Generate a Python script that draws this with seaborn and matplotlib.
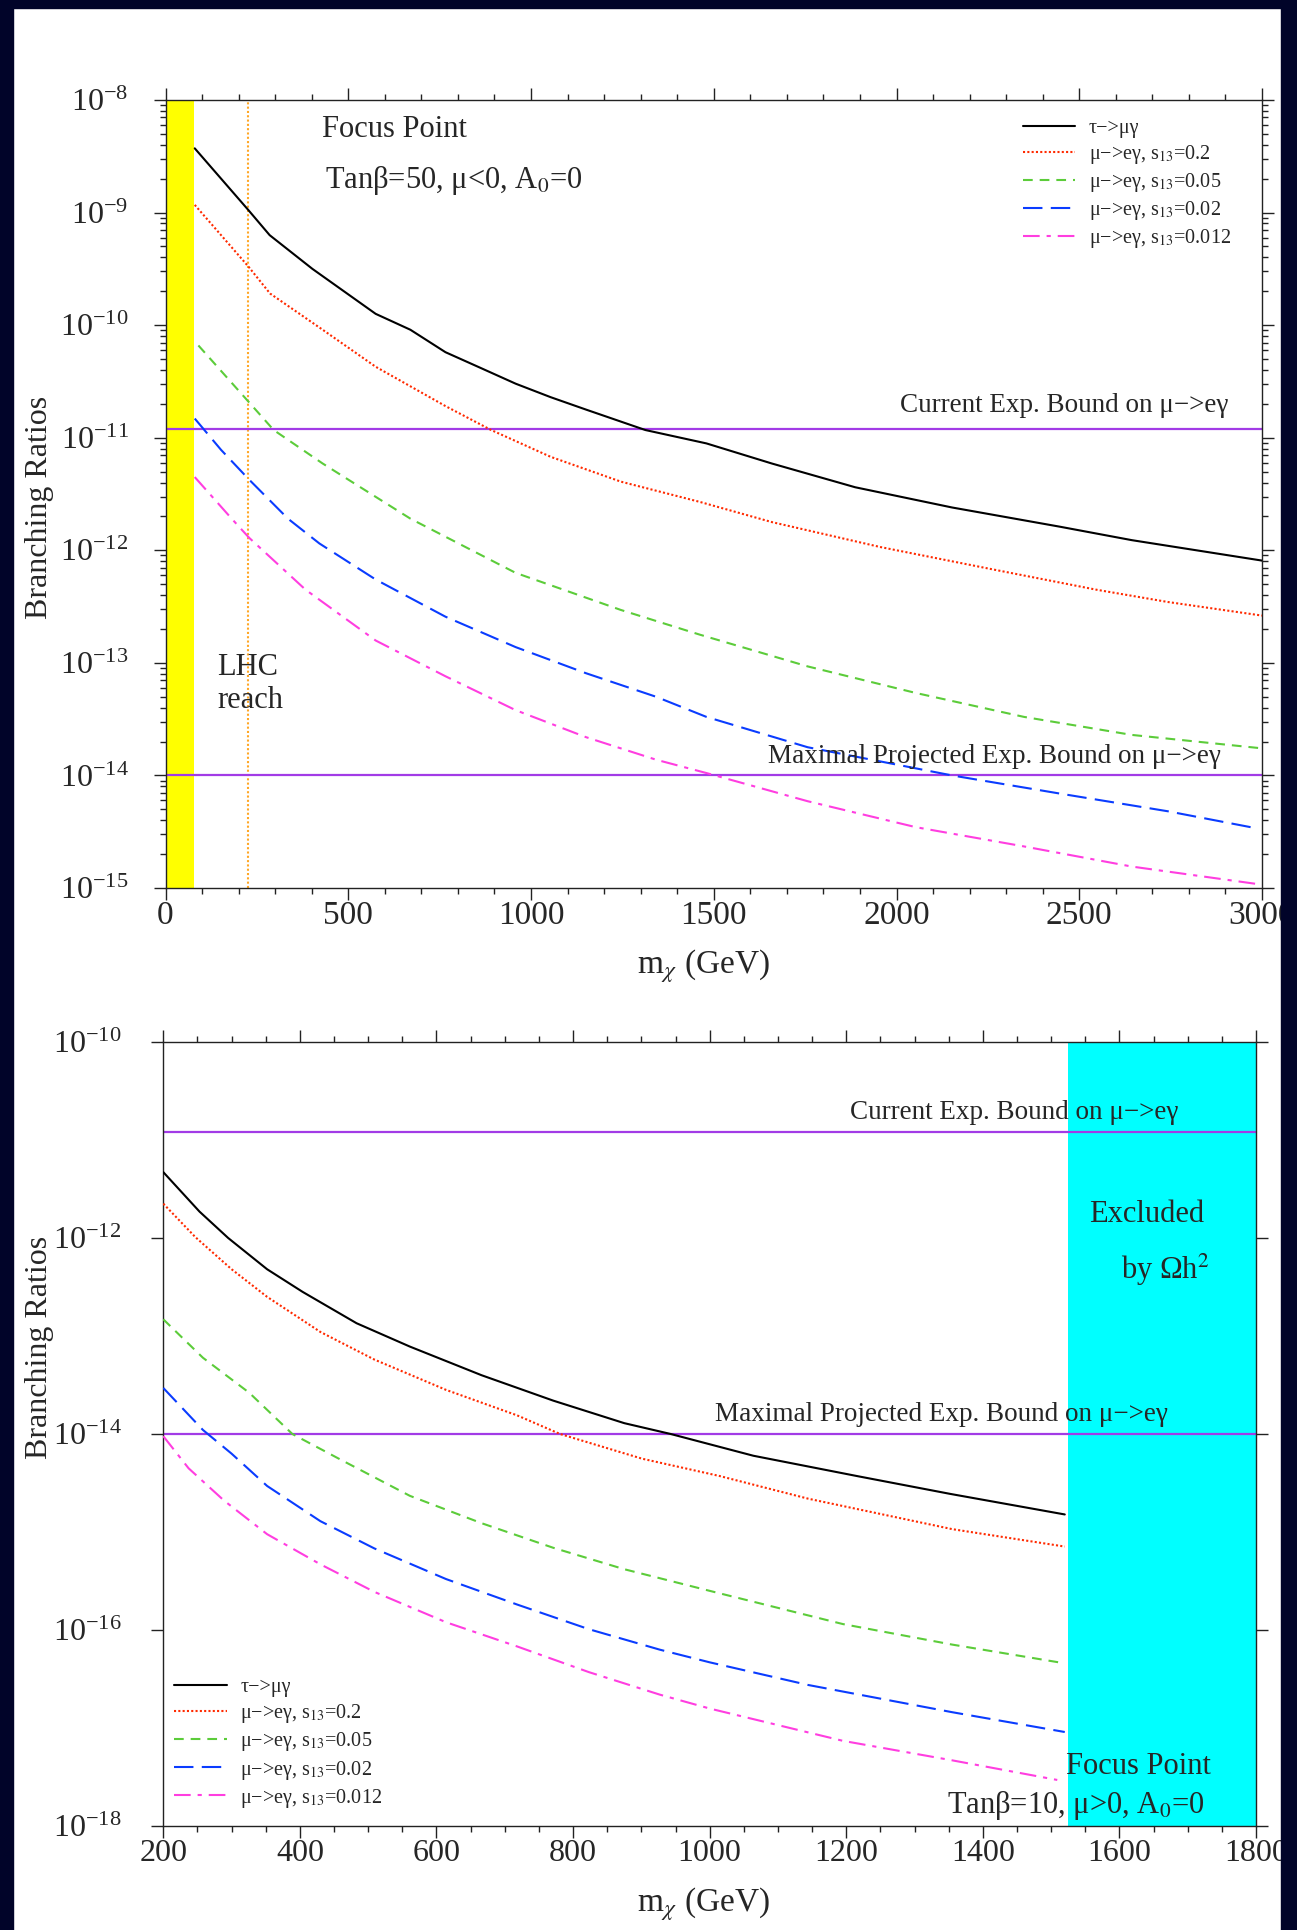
import numpy as np
import pandas as pd
import matplotlib
matplotlib.use("Agg")
import matplotlib.pyplot as plt
import matplotlib.ticker as mticker
from matplotlib.patches import Rectangle
import seaborn as sns

sns.set_theme(style="ticks")
plt.rcParams['font.family'] = ['Liberation Serif', 'DejaVu Serif']
plt.rcParams['mathtext.fontset'] = 'stix'
plt.rcParams['lines.scale_dashes'] = False
plt.rcParams['axes.unicode_minus'] = True

# ---------------- data: top panel (tan beta = 50) ----------------
top_tau_x = [80, 227, 285, 402, 575, 670, 766, 862, 958, 1054, 1150, 1313, 1480, 1659, 1887, 2152, 2447, 2644, 3000]
top_tau_y = [3.72e-9, 1.05e-9, 6.3e-10, 3.16e-10, 1.26e-10, 9.1e-11, 5.75e-11, 4.17e-11, 3.02e-11, 2.29e-11,
             1.78e-11, 1.17e-11, 8.9e-12, 5.9e-12, 3.63e-12, 2.4e-12, 1.62e-12, 1.23e-12, 8.1e-13]
top_s02_x = [80, 227, 286, 430, 575, 766, 891, 1054, 1246, 1462, 1659, 1955, 2250, 2546, 2743, 3000]
top_s02_y = [1.17e-9, 3.31e-10, 1.91e-10, 9.1e-11, 4.27e-11, 1.91e-11, 1.17e-11, 6.76e-12, 4.07e-12, 2.69e-12,
             1.78e-12, 1.07e-12, 6.9e-13, 4.47e-13, 3.47e-13, 2.63e-13]
top_s005_x = [90, 227, 296, 430, 670, 958, 1246, 1462, 1757, 2053, 2349, 2644, 3000]
top_s005_y = [6.6e-11, 2.09e-11, 1.17e-11, 5.9e-12, 1.91e-12, 6.3e-13, 2.95e-13, 1.78e-13, 9.3e-14, 5.4e-14,
              3.31e-14, 2.29e-14, 1.74e-14]
top_s002_x = [80, 152, 228, 335, 421, 575, 766, 958, 1150, 1342, 1480, 1757, 2152, 2447, 2743, 2969]
top_s002_y = [1.48e-11, 7.8e-12, 4.27e-12, 1.91e-12, 1.15e-12, 5.5e-13, 2.57e-13, 1.38e-13, 8.1e-14, 5.0e-14,
              3.31e-14, 1.78e-14, 1.0e-14, 6.9e-15, 4.8e-15, 3.47e-15]
top_s0012_x = [80, 181, 229, 383, 575, 766, 958, 1150, 1342, 1480, 1757, 2053, 2349, 2644, 3000]
top_s0012_y = [4.47e-12, 1.91e-12, 1.29e-12, 4.47e-13, 1.58e-13, 7.6e-14, 3.8e-14, 2.19e-14, 1.38e-14, 1.05e-14,
               5.9e-15, 3.47e-15, 2.34e-15, 1.55e-15, 1.07e-15]

# ---------------- data: bottom panel (tan beta = 10) ----------------
bot_tau_x = [200, 253, 295, 352, 404, 483, 561, 666, 771, 875, 943, 1064, 1216, 1352, 1520]
bot_tau_y = [4.7e-12, 1.86e-12, 1.0e-12, 4.8e-13, 2.82e-13, 1.35e-13, 7.8e-14, 3.98e-14, 2.19e-14, 1.29e-14,
             1.0e-14, 6.0e-15, 3.72e-15, 2.45e-15, 1.51e-15]
bot_s02_x = [200, 247, 300, 352, 430, 509, 614, 718, 781, 901, 1015, 1144, 1355, 1520]
bot_s02_y = [2.24e-12, 1.02e-12, 4.8e-13, 2.51e-13, 1.1e-13, 5.75e-14, 2.82e-14, 1.55e-14, 1.0e-14, 5.6e-15,
             3.72e-15, 2.19e-15, 1.07e-15, 7.1e-16]
bot_s005_x = [200, 258, 326, 389, 457, 561, 666, 771, 875, 1000, 1195, 1355, 1520]
bot_s005_y = [1.48e-13, 6.0e-14, 2.63e-14, 1.0e-14, 5.6e-15, 2.34e-15, 1.23e-15, 6.9e-16, 4.17e-16, 2.51e-16,
              1.15e-16, 7.1e-17, 4.57e-17]
bot_s002_x = [200, 258, 300, 352, 430, 509, 614, 718, 823, 927, 1000, 1144, 1355, 1520]
bot_s002_y = [2.95e-14, 1.1e-14, 6.3e-15, 2.95e-15, 1.29e-15, 6.8e-16, 3.31e-16, 1.82e-16, 1.02e-16, 6.3e-17,
              4.68e-17, 2.75e-17, 1.45e-17, 9.1e-18]
bot_s0012_x = [200, 237, 289, 352, 430, 509, 614, 718, 823, 927, 1000, 1195, 1355, 1509]
bot_s0012_y = [9.5e-15, 4.47e-15, 2.09e-15, 9.5e-16, 4.68e-16, 2.45e-16, 1.2e-16, 6.8e-17, 3.72e-17, 2.19e-17,
               1.58e-17, 7.4e-18, 4.68e-18, 2.95e-18]

current_bound = 1.2e-11
projected_bound = 1.0e-14
lhc_band = (0, 79)
lhc_reach = 227
omega_band = (1524, 1800)

series_labels = ['τ−>μγ', 'μ−>eγ, s$_{13}$=0.2', 'μ−>eγ, s$_{13}$=0.05',
                 'μ−>eγ, s$_{13}$=0.02', 'μ−>eγ, s$_{13}$=0.012']
series_colors = ['black', '#ff2a00', '#5ccc3a', '#0a3cff', '#ff3ee0']
series_styles = ['-', (0, (1.5, 1.6)), (0, (7, 5)), (0, (14, 6)), (0, (12, 5, 3, 5))]

top_series = [(top_tau_x, top_tau_y), (top_s02_x, top_s02_y), (top_s005_x, top_s005_y),
              (top_s002_x, top_s002_y), (top_s0012_x, top_s0012_y)]
bot_series = [(bot_tau_x, bot_tau_y), (bot_s02_x, bot_s02_y), (bot_s005_x, bot_s005_y),
              (bot_s002_x, bot_s002_y), (bot_s0012_x, bot_s0012_y)]

W, H = 1297, 1930
fig = plt.figure(figsize=(W / 100, H / 100), dpi=100)
fig.patch.set_facecolor('white')

purple = '#a23be6'
navy = '#010429'

ax1 = fig.add_axes([165.5 / W, 1 - 888 / H, (1262 - 165.5) / W, 788 / H])
ax2 = fig.add_axes([163.3 / W, 1 - 1826 / H, (1256 - 163.3) / W, 784 / H])


def draw_series(ax, series):
    handles = []
    for (xs, ys), lab, col, ls in zip(series, series_labels, series_colors, series_styles):
        df = pd.DataFrame({'m': xs, 'br': ys})
        sns.lineplot(data=df, x='m', y='br', ax=ax, color=col, linewidth=1.5, linestyle=ls,
                     estimator=None, sort=False, legend=False, label=lab, zorder=3)
        handles.append(ax.lines[-1])
    return handles


def style_axes(ax):
    ax.set_facecolor('white')
    for s in ax.spines.values():
        s.set_color('#222222')
        s.set_linewidth(1.0)
    ax.tick_params(which='both', direction='out', top=True, right=True, color='#222222', width=1.0)
    ax.tick_params(which='major', length=8.6)
    ax.tick_params(which='minor', length=4.3)
    ax.set_xlabel('')
    ax.set_ylabel('')
    ax.grid(False)


legend_kw = dict(frameon=False, fontsize=14.5, handlelength=2.6, handletextpad=0.68,
                 labelspacing=0.25, borderpad=0, borderaxespad=0)

# ---------------- top panel ----------------
ax1.set_yscale('log')
ax1.axvspan(*lhc_band, color='#ffff00', lw=0, zorder=1)
ax1.axvline(lhc_reach, color='#ffa726', lw=1.5, linestyle=(0, (1.5, 1.6)), zorder=2)
ax1.axhline(current_bound, color=purple, lw=1.6, zorder=2)
ax1.axhline(projected_bound, color=purple, lw=1.6, zorder=2)
h1 = draw_series(ax1, top_series)
ax1.set_xlim(0, 3000)
ax1.set_ylim(1e-15, 1e-8)
style_axes(ax1)
ax1.xaxis.set_major_locator(mticker.MultipleLocator(500))
ax1.xaxis.set_minor_locator(mticker.MultipleLocator(100))
ax1.yaxis.set_major_locator(mticker.LogLocator(base=10, numticks=20))
ax1.yaxis.set_minor_locator(mticker.LogLocator(base=10, subs=np.arange(2, 10), numticks=20))
ax1.yaxis.set_major_formatter(mticker.LogFormatterMathtext())
ax1.yaxis.set_minor_formatter(mticker.NullFormatter())
ax1.tick_params(axis='x', which='major', labelsize=24, pad=0.5)
ax1.tick_params(axis='y', which='major', labelsize=23, pad=18)

ax1.text(428, 4.68e-9, 'Focus Point', fontsize=22, ha='left', va='baseline')
ax1.text(436, 1.66e-9, 'Tanβ=50, μ<0, A$_0$=0', fontsize=22, ha='left', va='baseline')
ax1.text(2907, 1.7e-11, 'Current Exp. Bound on μ−>eγ', fontsize=19.5, ha='right', va='baseline', zorder=5)
ax1.text(2888, 1.3e-14, 'Maximal Projected Exp. Bound on μ−>eγ', fontsize=19.5, ha='right', va='baseline', zorder=5)
ax1.text(141, 7.8e-14, 'LHC', fontsize=22, ha='left', va='baseline', zorder=5)
ax1.text(141, 3.97e-14, 'reach', fontsize=22, ha='left', va='baseline', zorder=5)

ax1.legend(handles=h1, labels=series_labels, loc='upper left', bbox_to_anchor=(0.7816, 0.976), **legend_kw)

# ---------------- bottom panel ----------------
ax2.set_yscale('log')
ax2.axvspan(*omega_band, color='#00ffff', lw=0, zorder=1)
ax2.axhline(current_bound, color=purple, lw=1.6, zorder=2)
ax2.axhline(projected_bound, color=purple, lw=1.6, zorder=2)
h2 = draw_series(ax2, bot_series)
ax2.set_xlim(200, 1800)
ax2.set_ylim(1e-18, 1e-10)
style_axes(ax2)
ax2.xaxis.set_major_locator(mticker.MultipleLocator(200))
ax2.xaxis.set_minor_locator(mticker.MultipleLocator(50))
ax2.yaxis.set_major_locator(mticker.LogLocator(base=100, numticks=20))
ax2.yaxis.set_minor_locator(mticker.NullLocator())
ax2.yaxis.set_major_formatter(mticker.LogFormatterMathtext(base=10))
ax2.tick_params(axis='x', which='major', labelsize=23, pad=1)
ax2.tick_params(axis='y', which='major', labelsize=23, pad=21.5)

ax2.text(1687, 10 ** -10.79, 'Current Exp. Bound on μ−>eγ', fontsize=19.5, ha='right', va='baseline', zorder=5)
ax2.text(1671, 10 ** -13.87, 'Maximal Projected Exp. Bound on μ−>eγ', fontsize=19.5, ha='right', va='baseline', zorder=5)
ax2.text(1640, 10 ** -11.84, 'Excluded', fontsize=22, ha='center', va='baseline', zorder=5)
ax2.text(1603, 10 ** -12.42, 'by Ωh$^2$', fontsize=22, ha='left', va='baseline', zorder=5)
ax2.text(1522, 10 ** -17.47, 'Focus Point', fontsize=22, ha='left', va='baseline', zorder=5)
ax2.text(1725, 10 ** -17.87, 'Tanβ=10, μ>0, A$_0$=0', fontsize=22, ha='right', va='baseline', zorder=5)

ax2.legend(handles=h2, labels=series_labels, loc='lower left', bbox_to_anchor=(0.0101, 0.021), **legend_kw)

# ---------------- axis titles ----------------
fig.text(39.5 / W, 1 - 507 / H, 'Branching Ratios', rotation=90, fontsize=23, ha='center', va='center')
fig.text(39.5 / W, 1 - 1347 / H, 'Branching Ratios', rotation=90, fontsize=23, ha='center', va='center')
fig.text(703 / W, 1 - 966 / H, r'm$_\chi$ (GeV)', fontsize=24, ha='center', va='center')
fig.text(703 / W, 1 - 1904 / H, r'm$_\chi$ (GeV)', fontsize=24, ha='center', va='center')

# ---------------- navy border strips ----------------
fig.add_artist(Rectangle((0, 0), 13 / W, 1, transform=fig.transFigure, color=navy, zorder=20))
fig.add_artist(Rectangle((1281 / W, 0), 1 - 1281 / W, 1, transform=fig.transFigure, color=navy, zorder=20))
fig.add_artist(Rectangle((0, 1 - 8 / H), 1, 8 / H, transform=fig.transFigure, color=navy, zorder=20))

fig.savefig('out.png', dpi=100, facecolor=fig.get_facecolor())
